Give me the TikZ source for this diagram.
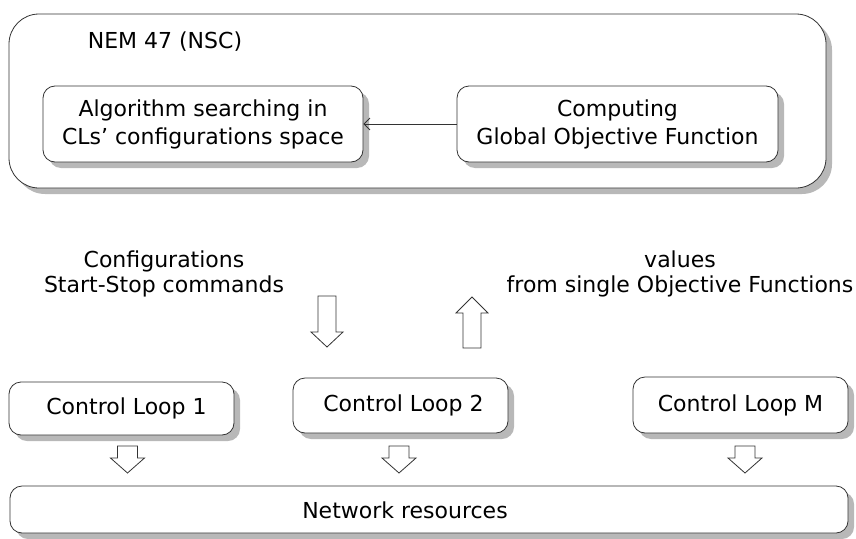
\documentclass[tikz,border=0pt]{standalone}
\usepackage{fontspec}
\setmainfont{DejaVu Sans}
\usetikzlibrary{shadows,arrows.meta}
\begin{document}
\begin{tikzpicture}[x=1pt,y=-1pt,
  font=\fontsize{22}{28}\selectfont,
  box/.style={draw=black!80, line width=0.8pt, fill=white, rounded corners=12pt,
    align=center, inner sep=0pt,
    drop shadow={shadow xshift=6pt, shadow yshift=-6pt, fill=black!28, opacity=1}},
  lbl/.style={align=center, inner sep=0pt, font=\fontsize{22}{25}\selectfont},
  blockarrow/.style={draw=black!80, line width=0.8pt, fill=white, line join=miter}]
  \useasboundingbox (0,0) rectangle (856,538);
  % NEM outer box
  \node[box, rounded corners=30pt, minimum width=817pt, minimum height=174pt] (nem) at (417.5,101) {};
  \node[lbl] (nemtitle) at (165,42) {NEM 47 (NSC)};
  \node[box, minimum width=320pt, minimum height=76pt] (algo) at (203,124)
    {Algorithm searching in\\CLs' configurations space};
  \node[box, minimum width=321pt, minimum height=76pt] (comp) at (617.5,124)
    {Computing\\Global Objective Function};
  \draw[black!80, line width=0.8pt, -{Straight Barb[length=6pt,width=12pt]}] (comp.west) -- (algo.east);
  % labels
  \node[lbl] (cfg) at (164,274) {Configurations\\Start-Stop commands};
  \node[lbl] (vals) at (680,274) {values\\from single Objective Functions};
  % big block arrows
  \draw[blockarrow] (318,296) -- (336,296) -- (336,332) -- (343,332) -- (327,347) -- (311,332) -- (318,332) -- cycle;
  \draw[blockarrow] (463,348) -- (481,348) -- (481,313) -- (488,313) -- (472,297) -- (456,313) -- (463,313) -- cycle;
  % control loops
  \node[box, minimum width=225pt, minimum height=53pt] (cl1) at (121.5,408.5) {\hspace*{10pt}Control Loop 1};
  \node[box, minimum width=215pt, minimum height=55pt] (cl2) at (400.5,405.5) {\hspace*{6pt}Control Loop 2};
  \node[box, minimum width=215pt, minimum height=56pt] (clm) at (740.5,405) {Control Loop M};
  % small block arrows
  \foreach \cx in {127.5,399,745}{
    \draw[blockarrow] (\cx-10,446) -- (\cx+10,446) -- (\cx+10,458) -- (\cx+17,458) -- (\cx,473) -- (\cx-17,458) -- (\cx-10,458) -- cycle;
  }
  % network resources
  \node[box, minimum width=838pt, minimum height=47pt] (net) at (429,509.5) {};
  \node[lbl] (nettext) at (405,510) {Network resources};
\end{tikzpicture}
\end{document}
